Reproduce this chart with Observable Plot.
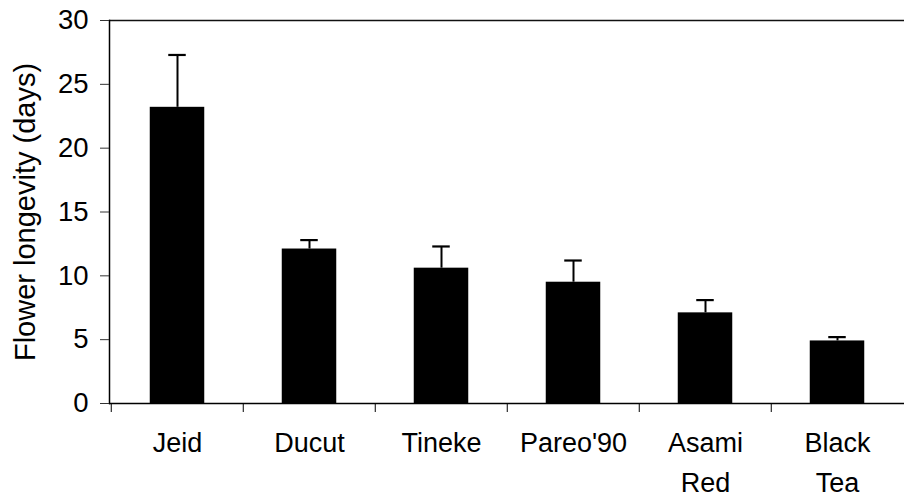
<!DOCTYPE html>
<html>
<head>
<meta charset="utf-8">
<script src="https://cdn.jsdelivr.net/npm/d3@7"></script>
<script src="https://cdn.jsdelivr.net/npm/@observablehq/plot@0.6"></script>
<style>
  html, body { margin: 0; padding: 0; background: #fff; }
</style>
</head>
<body>
<div id="chart"></div>
<script>
const categories = ["Jeid", "Ducut", "Tineke", "Pareo'90", "Asami Red", "Black Tea"];
const tickLabels = ["Jeid", "Ducut", "Tineke", "Pareo'90", "Asami\nRed", "Black\nTea"];
const longevity = [23.2, 12.1, 10.6, 9.5, 7.1, 4.9];
const errorUp = [4.1, 0.7, 1.7, 1.7, 1.0, 0.3];
const yTicks = [0, 5, 10, 15, 20, 25, 30];

const data = categories.map((c, i) => ({cat: c, v: longevity[i], hi: longevity[i] + errorUp[i]}));
const labelOf = new Map(categories.map((c, i) => [c, tickLabels[i]]));

const W = 904, H = 499, ML = 109, MR = 0, MT = 20, MB = 96;
const band = (W - ML - MR) / categories.length;
const frameH = H - MT - MB;
const barW = 55, capW = 18;

const chart = Plot.plot({
  width: W,
  height: H,
  marginLeft: ML,
  marginRight: MR,
  marginTop: MT,
  marginBottom: MB,
  style: {fontFamily: "'Liberation Sans', Arial, sans-serif", fontSize: "27px", color: "#000", background: "#fff"},
  x: {domain: categories, padding: 0},
  y: {domain: [0, 30]},
  marks: [
    Plot.barY(data, {x: "cat", y: "v", fill: "#000", insetLeft: (band - barW) / 2, insetRight: (band - barW) / 2}),
    Plot.ruleX(data, {x: "cat", y1: "v", y2: "hi", stroke: "#000", strokeWidth: 2}),
    Plot.tickY(data, {x: "cat", y: "hi", stroke: "#000", strokeWidth: 2.2, insetLeft: (band - capW) / 2, insetRight: (band - capW) / 2}),
    Plot.ruleY([30], {stroke: "#111", strokeWidth: 1.5}),
    Plot.ruleY([0], {stroke: "#000", strokeWidth: 1.5}),
    Plot.frame({anchor: "left", stroke: "#000", strokeWidth: 1.5}),
    Plot.axisY({ticks: yTicks, tickSize: 9, tickPadding: 12, stroke: "#333", fontSize: 27.5, label: null}),
    Plot.axisY({ticks: [], tickSize: 0, label: "Flower longevity (days)", labelAnchor: "center", labelArrow: "none", labelOffset: 95, fontSize: 29}),
    Plot.axisX({tickSize: 0, tickPadding: 20, tickFormat: d => labelOf.get(d), fontSize: 27, lineHeight: 1.48, label: null}),
    Plot.ruleX(categories, {x: d => d, dx: -band / 2, stroke: "#000", strokeWidth: 1, insetTop: frameH, insetBottom: -9})
  ]
});
document.getElementById("chart").appendChild(chart);
</script>
</body>
</html>
